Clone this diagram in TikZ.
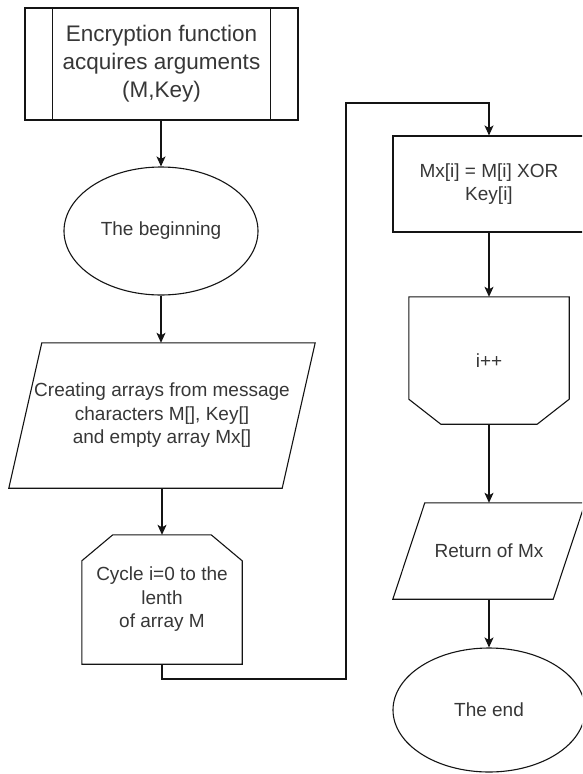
\documentclass[tikz,border=0pt]{standalone}
\usepackage{fontspec}
\setmainfont{Liberation Sans}
\usetikzlibrary{shapes.geometric,arrows.meta}
\definecolor{ink}{RGB}{20,20,20}
\definecolor{txt}{RGB}{55,55,55}
\begin{document}
\begin{tikzpicture}[x=1pt,y=-1pt,
  outline/.style={draw=ink,line width=1.1pt},
  lbl/.style={text=txt,align=center,inner sep=0pt,
    font=\fontsize{19}{23.5}\selectfont},
  biglbl/.style={lbl,font=\fontsize{22.5}{28}\selectfont},
  arr/.style={draw=ink,line width=1.1pt,
    -{Stealth[length=10pt,width=9pt,inset=2.5pt]}},
  line/.style={draw=ink,line width=1.1pt}]
\useasboundingbox (0,0) rectangle (582,774);
\fill[white] (0,0) rectangle (582,774);
\clip (0,0) rectangle (582,774);

% predefined process: function entry
\node[biglbl,outline,minimum width=273pt,minimum height=112pt] (entry) at (161.5,64)
  {Encryption function\\acquires arguments\\(M,Key)};
\draw[line] ([xshift=28pt]entry.north west) -- ([xshift=28pt]entry.south west);
\draw[line] ([xshift=-28pt]entry.north east) -- ([xshift=-28pt]entry.south east);

% start terminal
\node[lbl,outline,ellipse,minimum width=194pt,minimum height=128pt] (begin) at (161,231)
  {The beginning};

% input / output: build arrays
\node[lbl,minimum width=306pt,minimum height=145pt] (arrays) at (162,415.5)
  {Creating arrays from message\\characters M[], Key[]\\and empty array Mx[]};
\draw[outline] (arrays.south west) -- ([xshift=33pt]arrays.north west)
  -- (arrays.north east) -- ([xshift=-33pt]arrays.south east) -- cycle;

% loop limit (open)
\node[lbl,minimum width=160pt,minimum height=129pt] (cycle) at (162,599.5)
  {Cycle i=0 to the\\lenth\\of array M};
\draw[outline] (cycle.south west) -- ([yshift=-26pt]cycle.north west)
  -- ([xshift=31pt]cycle.north west) -- ([xshift=-31pt]cycle.north east)
  -- ([yshift=-26pt]cycle.north east) -- (cycle.south east) -- cycle;

% process: xor step
\node[lbl,outline,minimum width=192pt,minimum height=96pt] (xor) at (489,184)
  {Mx[i] = M[i] XOR\\Key[i]};

% loop limit (close)
\node[lbl,minimum width=160pt,minimum height=127pt] (inc) at (489,360.5) {i++};
\draw[outline] (inc.north west) -- (inc.north east)
  -- ([yshift=25pt]inc.south east) -- ([xshift=-32pt]inc.south east)
  -- ([xshift=32pt]inc.south west) -- ([yshift=25pt]inc.south west) -- cycle;

% output: result
\node[lbl,minimum width=192pt,minimum height=96pt] (ret) at (489,551) {Return of Mx};
\draw[outline] (ret.south west) -- ([xshift=32pt]ret.north west)
  -- (ret.north east) -- ([xshift=-32pt]ret.south east) -- cycle;

% end terminal
\node[lbl,outline,ellipse,minimum width=192pt,minimum height=124pt] (finish) at (489,710)
  {The end};

% connectors
\coordinate (loopLow) at (346,679);
\coordinate (loopHigh) at (346,103);
\draw[arr] (entry.south -| begin.north) -- (begin.north);
\draw[arr] (begin.south) -- (begin.south |- arrays.north);
\draw[arr] (arrays.south -| cycle.north) -- (cycle.north);
\draw[arr] (cycle.south) -- (cycle.south |- loopLow) -- (loopLow)
  -- (loopHigh) -- (loopHigh -| xor.north) -- (xor.north);
\draw[arr] (xor.south) -- (inc.north);
\draw[arr] (inc.south) -- (ret.north);
\draw[arr] (ret.south) -- (finish.north);
\end{tikzpicture}
\end{document}
